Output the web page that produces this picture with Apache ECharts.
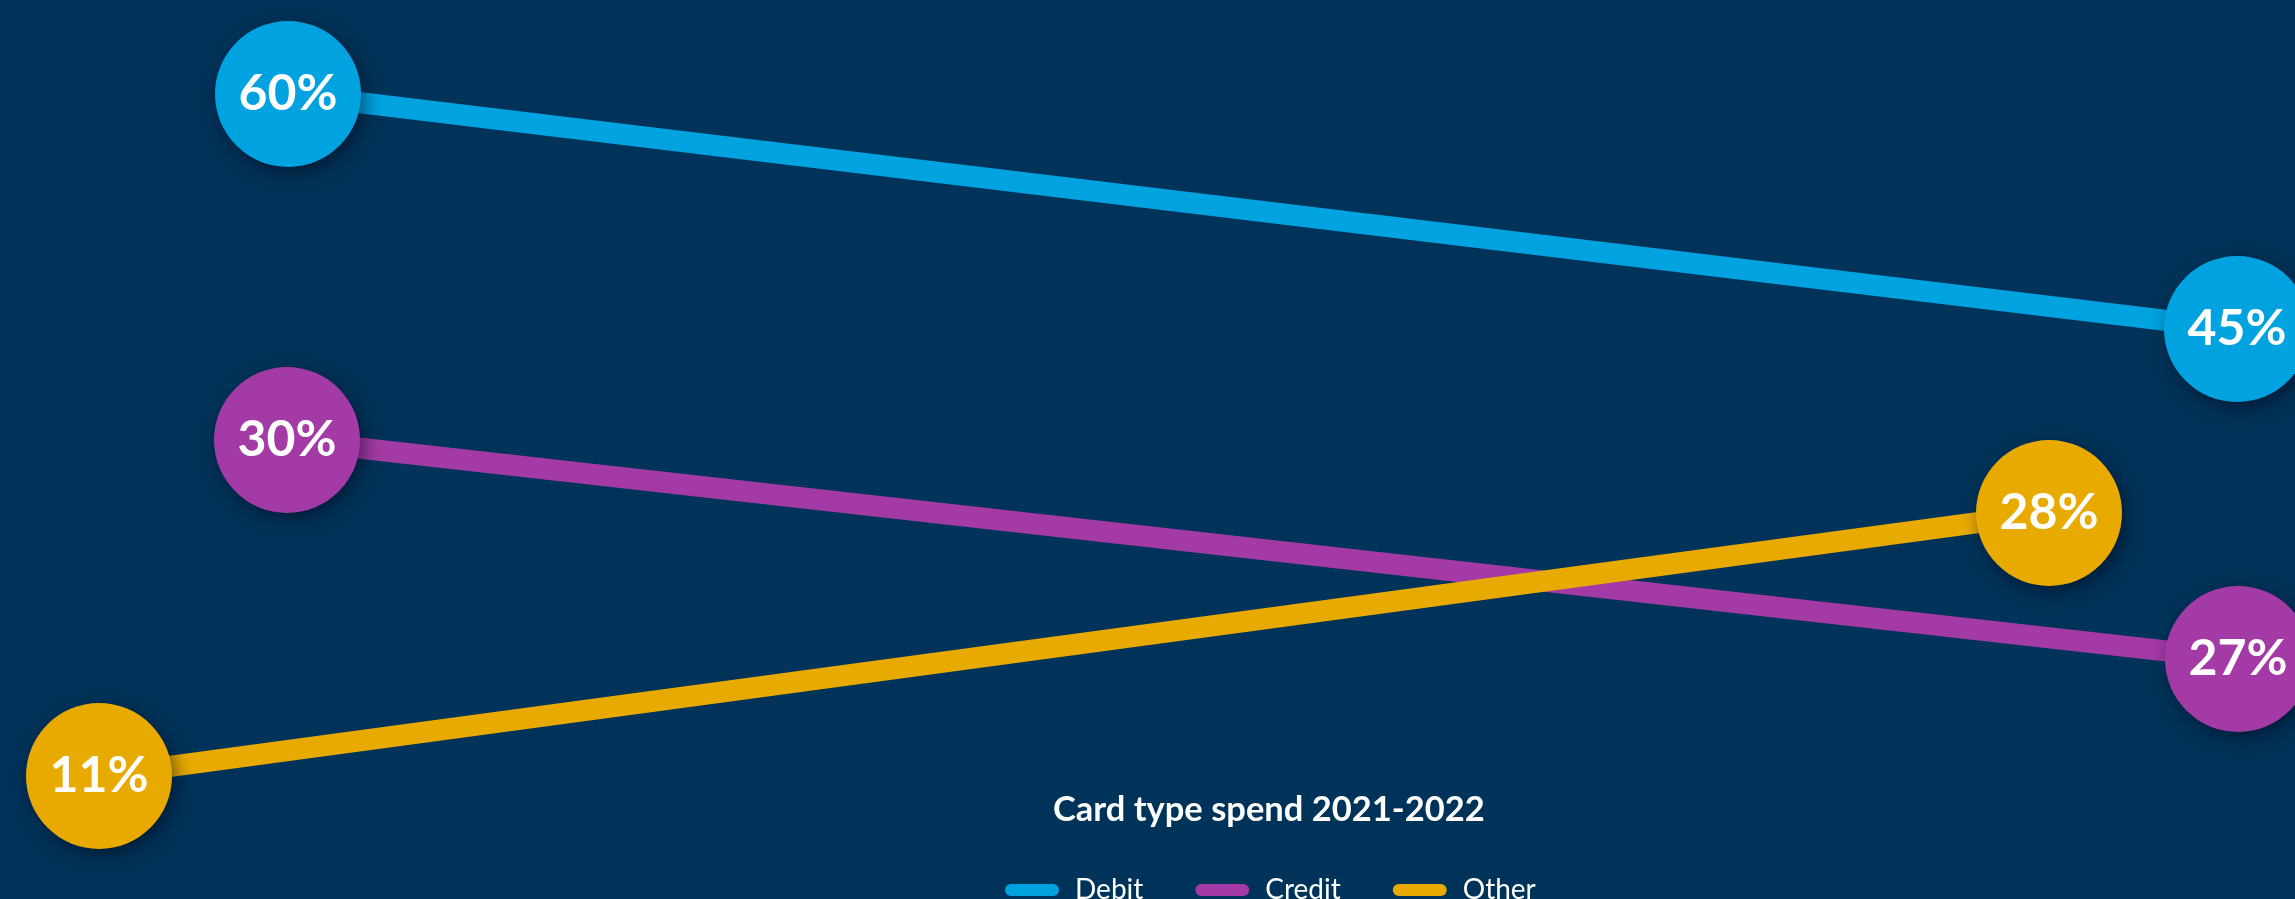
<!DOCTYPE html>
<html>
<head>
<meta charset="utf-8">
<title>Card type spend 2021-2022</title>
<script src="https://cdn.jsdelivr.net/npm/echarts@6/dist/echarts.min.js"></script>
<style>
  html, body { margin: 0; padding: 0; background: #003359; }
  #chart { width: 2295px; height: 899px; }
</style>
</head>
<body>
<div id="chart"></div>
<script>
// Share of card spend by card type, 2021 vs 2022 (percent)
const years = ['2021', '2022'];
const seriesNames = ['Debit', 'Credit', 'Other'];
const debit = [60, 45];
const credit = [30, 27];
const other = [11, 28];
const chartTitle = 'Card type spend 2021-2022';

const colors = { Debit: '#00A3E0', Credit: '#A43AA6', Other: '#E9AA00' };
const valuesByName = { Debit: debit, Credit: credit, Other: other };

// Each slope line gets its own panel so its two end points sit at the panel edges.
const panels = {
  Debit:  { left: 288, right: 58,  top: 94,  bottom: 570 },
  Credit: { left: 287, right: 57,  top: 440, bottom: 240 },
  Other:  { left: 99,  right: 246, top: 513, bottom: 123 }
};

const fontFamily = 'Lato, "Open Sans", sans-serif';

const grid = [], xAxis = [], yAxis = [], series = [];
seriesNames.forEach((name, i) => {
  grid.push(Object.assign({ containLabel: false }, panels[name]));
  xAxis.push({
    type: 'category', gridIndex: i, data: years, boundaryGap: false, show: false
  });
  yAxis.push({
    type: 'value', gridIndex: i, min: 'dataMin', max: 'dataMax', show: false, splitLine: { show: false }
  });
  series.push({
    name: name,
    type: 'line',
    xAxisIndex: i,
    yAxisIndex: i,
    data: valuesByName[name],
    symbol: 'circle',
    symbolSize: 146,
    lineStyle: { color: colors[name], width: 21 },
    itemStyle: {
      color: colors[name],
      shadowBlur: 18,
      shadowColor: 'rgba(0, 10, 25, 0.55)',
      shadowOffsetX: 4,
      shadowOffsetY: 6
    },
    label: {
      show: true,
      position: 'inside',
      formatter: '{c}%',
      color: '#ffffff',
      fontFamily: fontFamily,
      fontWeight: 'bold',
      fontSize: 50
    },
    emphasis: { disabled: true },
    silent: true
  });
});

const chart = echarts.init(document.getElementById('chart'), null, { renderer: 'canvas' });
chart.setOption({
  animation: false,
  backgroundColor: '#003359',
  color: seriesNames.map(n => colors[n]),
  title: {
    text: chartTitle,
    left: 1053,
    top: 792,
    padding: 0,
    textStyle: {
      color: '#ffffff',
      fontFamily: fontFamily,
      fontWeight: 'bold',
      fontSize: 34.5
    }
  },
  legend: {
    data: seriesNames,
    left: 1005,
    top: 876,
    padding: 0,
    itemGap: 52,
    itemWidth: 54,
    itemHeight: 12,
    icon: 'path://M6,0 H48 A6,6 0 0 1 48,12 H6 A6,6 0 0 1 6,0 Z',
    textStyle: {
      color: '#ffffff',
      fontFamily: fontFamily,
      fontSize: 28,
      padding: [0, 0, 0, 11]
    },
    selectedMode: false
  },
  grid: grid,
  xAxis: xAxis,
  yAxis: yAxis,
  series: series
});
</script>
</body>
</html>
